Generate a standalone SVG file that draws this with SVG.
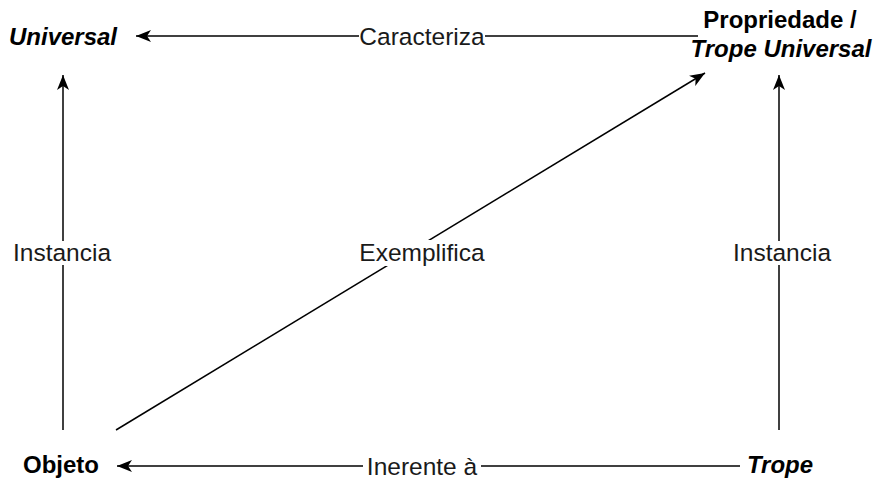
<svg xmlns="http://www.w3.org/2000/svg" width="880" height="482" viewBox="0 0 880 482">
<style>
.edge{fill:none;stroke:#000;stroke-width:1.5}
.node{font-family:"Liberation Sans",Arial,sans-serif;font-size:24px;font-weight:bold;fill:#000}
.it{font-style:italic}
.lbl{font-family:"Liberation Sans",Arial,sans-serif;font-size:24.5px;fill:#1a1a1a;text-anchor:middle}
.bg{fill:#fff}
</style>
<defs>
<marker id="arr" markerUnits="userSpaceOnUse" markerWidth="16" markerHeight="12" refX="15" refY="6" orient="auto" overflow="visible">
<path d="M0,0 L15,6 L0,12 L4,6 Z" fill="#000"/>
</marker>
</defs>
<rect width="880" height="482" fill="#fff"/>
<g id="connectors">
<g id="e-caracteriza">
<line class="edge" x1="698" y1="36" x2="136" y2="36" marker-end="url(#arr)"/>
<rect class="bg" x="359" y="26" width="126" height="22"/>
<text class="lbl" x="422" y="45">Caracteriza</text>
</g>
<g id="e-instancia-left">
<line class="edge" x1="63" y1="430" x2="63" y2="75" marker-end="url(#arr)"/>
<rect class="bg" x="10" y="241" width="106" height="24"/>
<text class="lbl" x="62" y="261">Instancia</text>
</g>
<g id="e-instancia-right">
<line class="edge" x1="779" y1="430" x2="779" y2="75" marker-end="url(#arr)"/>
<rect class="bg" x="726" y="241" width="106" height="24"/>
<text class="lbl" x="782" y="261">Instancia</text>
</g>
<g id="e-exemplifica">
<line class="edge" x1="116" y1="430" x2="705" y2="73" marker-end="url(#arr)"/>
<rect class="bg" x="357" y="240" width="130" height="26"/>
<text class="lbl" x="422" y="261">Exemplifica</text>
</g>
<g id="e-inerente">
<line class="edge" x1="740" y1="466" x2="117" y2="466" marker-end="url(#arr)"/>
<rect class="bg" x="363" y="455" width="118" height="24"/>
<text class="lbl" x="422" y="475">Inerente à</text>
</g>
</g>
<g id="n-universal">
<text class="node it" x="63" y="45" text-anchor="middle">Universal</text>
</g>
<g id="n-propriedade">
<text class="node" x="780" y="28" text-anchor="middle">Propriedade /</text>
<text class="node it" x="781" y="57" text-anchor="middle">Trope Universal</text>
</g>
<g id="n-objeto">
<text class="node" x="61" y="473" text-anchor="middle">Objeto</text>
</g>
<g id="n-trope">
<text class="node it" x="780" y="473" text-anchor="middle">Trope</text>
</g>
</svg>
